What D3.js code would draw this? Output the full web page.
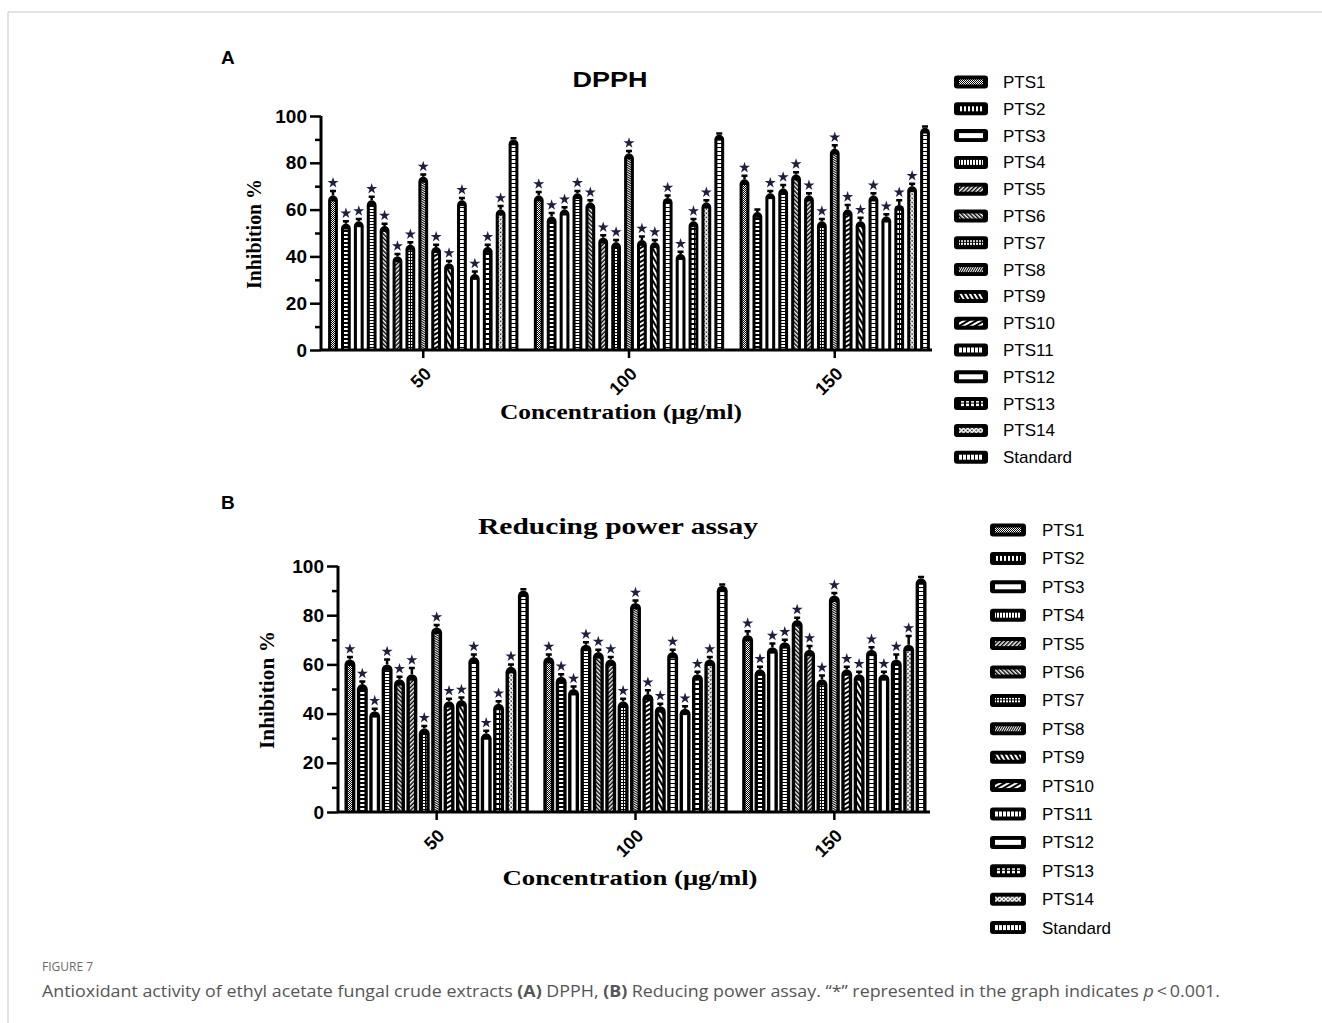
<!DOCTYPE html>
<html>
<head>
<meta charset="utf-8">
<script src="https://cdn.jsdelivr.net/npm/d3@7"></script>
<style>
  body { margin: 0; background: #fff; }
  svg { display: block; }
</style>
</head>
<body>
<svg width="1322" height="1023"></svg>
<script>
var groups = ["50", "100", "150"];
var series = ["PTS1", "PTS2", "PTS3", "PTS4", "PTS5", "PTS6", "PTS7", "PTS8",
              "PTS9", "PTS10", "PTS11", "PTS12", "PTS13", "PTS14", "Standard"];
var yTicks = [0, 20, 40, 60, 80, 100];

// DPPH inhibition %, one array per concentration
var dpph50  = [66, 54, 55, 64, 53, 40, 45, 74, 44, 37, 64, 32.5, 44, 60, 90];
var dpph100 = [66, 57, 60, 67, 63, 48, 46, 84, 47, 46, 65, 41, 55, 63, 92];
var dpph150 = [73, 59, 67, 69, 75, 66, 55, 86, 60, 55, 66, 57, 62, 70, 95];
var dpphErr50  = [2, 1, 1, 1.5, 1, 1, 1, 1, 1, 1, 1, 1, 1, 1.5, 0.5];
var dpphErr100 = [1.5, 1.5, 1, 1, 1, 1, 1, 1, 1.5, 1, 1, 1, 1, 1, 0.5];
var dpphErr150 = [1.5, 1, 1, 1.5, 1, 1, 1, 1.5, 2, 1.5, 1, 1, 2, 1, 0.5];
var dpphStar50  = [1, 1, 1, 1, 1, 1, 1, 1, 1, 1, 1, 1, 1, 1, 0];
var dpphStar100 = [1, 1, 1, 1, 1, 1, 1, 1, 1, 1, 1, 1, 1, 1, 0];
var dpphStar150 = [1, 0, 1, 1, 1, 1, 1, 1, 1, 1, 1, 1, 1, 1, 0];

// Reducing power assay, inhibition %
var rp50  = [62, 52, 41, 60, 54, 56, 34, 75, 45, 45.5, 63, 32, 44, 59, 90];
var rp100 = [63, 55, 50, 68, 65, 62, 45, 85, 48, 43, 65, 42, 56, 62, 92];
var rp150 = [72, 58, 67, 69, 78, 66, 54, 88, 58, 56, 66, 56, 62, 68, 95];
var rpErr50  = [1, 1, 1, 2, 1, 2.5, 1, 1, 1, 1, 1, 1, 1, 1, 0.5];
var rpErr100 = [1, 1, 1, 1, 1, 1, 1, 1, 1.5, 1, 1, 1, 1, 1, 0.5];
var rpErr150 = [1.5, 1, 1.5, 1, 1, 1.5, 1.5, 1, 1, 1, 1, 1, 2, 3.5, 0.5];
var rpStar50  = [1, 1, 1, 1, 1, 1, 1, 1, 1, 1, 1, 1, 1, 1, 0];
var rpStar100 = [1, 1, 1, 1, 1, 1, 1, 1, 1, 1, 1, 1, 1, 1, 0];
var rpStar150 = [1, 1, 1, 1, 1, 1, 1, 1, 1, 1, 1, 1, 1, 1, 0];

var svg = d3.select("svg");
var defs = svg.append("defs");

// white marks for each series, drawn on top of a black bar
var patternMarks = [
    function(p) { p.size = 2; p.rects = [[0, 0, 1, 1], [1, 1, 1, 1]]; },
    function(p) { p.size = 4; p.rects = [[0, 0, 4, 2]]; },
    function(p) { p.size = 4; p.rects = [[0, 0, 4, 4]]; },
    function(p) { p.size = 3; p.rects = [[0, 0, 4, 2]]; },
    function(p) { p.size = 3; p.lines = true; p.angle = 45; },
    function(p) { p.size = 3; p.lines = true; p.angle = -45; },
    function(p) { p.size = 3; p.rects = [[0, 0, 2, 2]]; },
    function(p) { p.size = 2; p.lines = true; p.angle = 30; },
    function(p) { p.size = 4; p.lines = true; p.angle = -30; },
    function(p) { p.size = 4; p.lines = true; p.angle = 60; },
    function(p) { p.size = 4; p.rects = [[0, 0, 4, 3]]; },
    function(p) { p.size = 4; p.rects = [[0, 0, 4, 4]]; },
    function(p) { p.size = 5; p.rects = [[0, 0, 4, 3]]; },
    function(p) { p.size = 3; p.lines = true; p.angle = 45; p.cross = true; },
    function(p) { p.size = 4; p.rects = [[0, 0, 4, 3]]; }
];

["v", "h"].forEach(function(dir) {
    patternMarks.forEach(function(f, i) {
        var p = {};
        f(p);
        var rot = (p.angle || 0) + (dir === "h" ? 90 : 0);
        var pat = defs.append("pattern")
            .attr("id", "pat-" + dir + i)
            .attr("patternUnits", "userSpaceOnUse")
            .attr("width", p.size)
            .attr("height", p.size)
            .attr("patternTransform", "rotate(" + rot + ")");
        if (p.lines) {
            pat.append("rect").attr("width", p.size).attr("height", p.size * 0.5).attr("fill", "#fff");
            if (p.cross) pat.append("rect").attr("width", p.size * 0.5).attr("height", p.size).attr("fill", "#fff");
        } else {
            p.rects.forEach(function(r) {
                pat.append("rect").attr("x", r[0]).attr("y", r[1])
                    .attr("width", r[2]).attr("height", r[3]).attr("fill", "#fff");
            });
        }
    });
});

// frame of the figure
svg.append("line").attr("x1", 8).attr("x2", 1322).attr("y1", 12).attr("y2", 12)
    .style("stroke", "#c8c8c8").style("stroke-width", "1px");
svg.append("line").attr("x1", 8).attr("x2", 8).attr("y1", 12).attr("y2", 1023)
    .style("stroke", "#c8c8c8").style("stroke-width", "1px");

function barPath(x0, w, yTop, yBase) {
    var r = w / 2;
    return "M" + x0 + "," + yBase + "V" + (yTop + r) +
        "A" + r + "," + r + " 0 0 1 " + (x0 + w) + "," + (yTop + r) +
        "V" + yBase + "Z";
}

function drawPanel(o) {
    var g = svg.append("g");

    var y = d3.scaleLinear().domain([0, 100]).range([o.y0, o.y100]);
    var x0 = d3.scaleBand().domain(groups).range(o.xRange).paddingInner(o.groupPad);
    var x1 = d3.scaleBand().domain(series).range([0, x0.bandwidth()]).padding(o.barPad);

    var rows = [];
    groups.forEach(function(gr, gi) {
        series.forEach(function(s, si) {
            rows.push({ group: gr, s: s, si: si,
                        v: o.values[gi][si], e: o.errs[gi][si], star: o.stars[gi][si] });
        });
    });

    var bx = function(d) { return x0(d.group) + x1(d.s); };
    var bw = x1.bandwidth();

    // error bars
    g.selectAll(".err").data(rows).enter().append("path")
        .attr("class", "err")
        .attr("d", function(d) {
            var cx = bx(d) + bw / 2, yt = y(d.v + d.e);
            return "M" + cx + "," + y(d.v) + "V" + yt + "M" + (cx - 3) + "," + yt + "H" + (cx + 3);
        })
        .style("stroke", "#000").style("stroke-width", "2.5px").style("fill", "none");

    // bars
    g.selectAll(".bar").data(rows).enter().append("path")
        .attr("class", "bar")
        .attr("d", function(d) { return barPath(bx(d), bw, y(d.v), y(0)); })
        .style("fill", "#000");

    // inner patterned stripe
    var iw = bw * 0.38;
    g.selectAll(".inner").data(rows).enter().append("rect")
        .attr("class", "inner")
        .attr("x", function(d) { return bx(d) + (bw - iw) / 2; })
        .attr("y", function(d) { return y(d.v) + bw / 2 + 1; })
        .attr("width", iw)
        .attr("height", function(d) { return Math.max(0, y(0) - y(d.v) - bw / 2 - 2); })
        .style("fill", function(d) { return "url(#pat-v" + d.si + ")"; });

    // significance stars
    g.selectAll(".star").data(rows.filter(function(d) { return d.star; })).enter().append("path")
        .attr("class", "star")
        .attr("d", d3.symbol().type(d3.symbolStar).size(38))
        .attr("transform", function(d) {
            return "translate(" + (bx(d) + bw / 2) + "," + (y(d.v + d.e) - 8) + ")";
        })
        .style("fill", "#1d1f3f");

    // y axis
    var yAxis = g.append("g").attr("transform", "translate(" + o.xAxis + ",0)")
        .call(d3.axisLeft(y).tickValues(yTicks).tickSize(11).tickPadding(3));
    g.append("g").attr("transform", "translate(" + o.xAxis + ",0)")
        .call(d3.axisLeft(y).tickValues([10, 30, 50, 70, 90]).tickSize(6).tickFormat(""))
        .select(".domain").remove();
    g.selectAll(".tick line").style("stroke", "#000").style("stroke-width", "2.5px");
    yAxis.select(".domain").attr("d", "M0," + (o.y0 + 1) + "V" + o.y100)
        .style("stroke", "#000").style("stroke-width", "3px");
    yAxis.selectAll("text").style("font-family", "Liberation Sans, Arial, sans-serif")
        .style("font-weight", "bold").style("font-size", "19px").style("fill", "#000");

    // x axis
    var xAxis = g.append("g").attr("transform", "translate(0," + o.y0 + ")")
        .call(d3.axisBottom(x0).tickSize(8).tickSizeOuter(0).tickFormat(""));
    xAxis.select(".domain").attr("d", "M" + o.xAxis + ",0H" + o.xEnd)
        .style("stroke", "#000").style("stroke-width", "3px");
    xAxis.selectAll(".tick line").style("stroke", "#000").style("stroke-width", "2.5px");
    xAxis.selectAll(".tick").append("text")
        .attr("text-anchor", "end")
        .attr("transform", "translate(9,25) rotate(-45)")
        .text(function(d) { return d; })
        .style("font-family", "Liberation Sans, Arial, sans-serif")
        .style("font-weight", "bold").style("font-size", "18px").style("fill", "#000");

    // titles
    g.append("text").attr("x", o.titleX).attr("y", o.titleY)
        .attr("text-anchor", "middle")
        .attr("textLength", o.titleLen).attr("lengthAdjust", "spacingAndGlyphs")
        .style("font-family", o.titleFont).style("font-weight", "bold")
        .style("font-size", o.titleSize + "px")
        .text(o.title);
    g.append("text").attr("x", o.xLabelX).attr("y", o.xLabelY)
        .attr("text-anchor", "middle")
        .attr("textLength", o.xLabelLen).attr("lengthAdjust", "spacingAndGlyphs")
        .style("font-family", "Liberation Serif, Times New Roman, serif").style("font-weight", "bold")
        .style("font-size", "20px")
        .text("Concentration (μg/ml)");
    g.append("text")
        .attr("transform", "translate(" + o.yLabelX + "," + o.yLabelY + ") rotate(-90)")
        .attr("text-anchor", "middle")
        .attr("textLength", o.yLabelLen).attr("lengthAdjust", "spacingAndGlyphs")
        .style("font-family", "Liberation Serif, Times New Roman, serif").style("font-weight", "bold")
        .style("font-size", "21px")
        .text("Inhibition %");
    g.append("text").attr("x", 221).attr("y", o.letterY)
        .style("font-family", "Liberation Sans, Arial, sans-serif").style("font-weight", "bold")
        .style("font-size", "19px")
        .text(o.letter);

    // legend
    var leg = g.selectAll(".leg").data(series).enter().append("g")
        .attr("class", "leg")
        .attr("transform", function(d, i) { return "translate(" + o.legX + "," + (o.legY + i * o.legStep) + ")"; });
    leg.append("rect").attr("x", 0).attr("y", -6.5).attr("width", o.swW).attr("height", 13)
        .attr("rx", 3).style("fill", "#000");
    leg.append("rect").attr("x", 5).attr("y", -2.5).attr("width", o.swW - 10).attr("height", 5)
        .style("fill", function(d, i) { return "url(#pat-h" + i + ")"; });
    leg.append("text").attr("x", o.legTextDx).attr("y", 6)
        .style("font-family", "Liberation Sans, Arial, sans-serif")
        .style("font-size", "17px").style("fill", "#000")
        .text(function(d) { return d; });
}

drawPanel({
    values: [dpph50, dpph100, dpph150], errs: [dpphErr50, dpphErr100, dpphErr150],
    stars: [dpphStar50, dpphStar100, dpphStar150],
    y0: 350, y100: 116, xRange: [325, 933], groupPad: 0.045, barPad: 0.24,
    xAxis: 321, xEnd: 932,
    title: "DPPH", titleX: 610, titleY: 87, titleLen: 75, titleSize: 22,
    titleFont: "Liberation Sans, Arial, sans-serif",
    xLabelX: 621, xLabelY: 419, xLabelLen: 242,
    yLabelX: 261, yLabelY: 234, yLabelLen: 110,
    letter: "A", letterY: 64,
    legX: 954, legY: 82, legStep: 26.8, swW: 34, legTextDx: 49
});

drawPanel({
    values: [rp50, rp100, rp150], errs: [rpErr50, rpErr100, rpErr150],
    stars: [rpStar50, rpStar100, rpStar150],
    y0: 812, y100: 566, xRange: [343, 928], groupPad: 0.058, barPad: 0.12,
    xAxis: 338, xEnd: 930,
    title: "Reducing power assay", titleX: 618, titleY: 534, titleLen: 280, titleSize: 23,
    titleFont: "Liberation Serif, Times New Roman, serif",
    xLabelX: 630, xLabelY: 885, xLabelLen: 255,
    yLabelX: 274, yLabelY: 690, yLabelLen: 118,
    letter: "B", letterY: 509,
    legX: 990, legY: 530, legStep: 28.4, swW: 36, legTextDx: 52
});

// caption
svg.append("text").attr("x", 42).attr("y", 971)
    .style("font-family", "Open Sans, Noto Sans, sans-serif")
    .style("font-size", "12px").style("fill", "#6a6a6a")
    .text("FIGURE 7");
var cap = svg.append("text").attr("x", 42).attr("y", 997)
    .attr("textLength", 1178).attr("lengthAdjust", "spacingAndGlyphs")
    .style("font-family", "Open Sans, Noto Sans, sans-serif")
    .style("font-size", "16px").style("fill", "#555");
cap.append("tspan").text("Antioxidant activity of ethyl acetate fungal crude extracts ");
cap.append("tspan").style("font-weight", "bold").text("(A)");
cap.append("tspan").text(" DPPH, ");
cap.append("tspan").style("font-weight", "bold").text("(B)");
cap.append("tspan").text(" Reducing power assay. \u201C*\u201D represented in the graph indicates ");
cap.append("tspan").style("font-style", "italic").text("p");
cap.append("tspan").text("\u2009<\u20090.001.");
</script>
</body>
</html>
